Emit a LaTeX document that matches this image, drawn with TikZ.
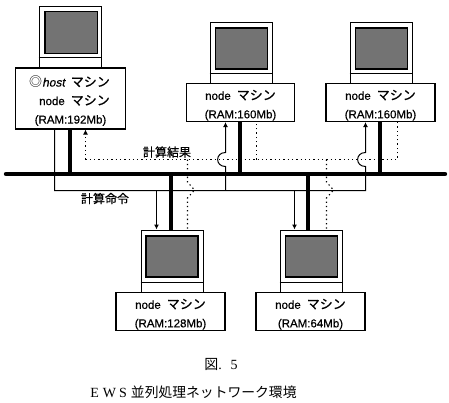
\documentclass[tikz,border=0pt]{standalone}
\usepackage{fontspec}
\setmainfont{Liberation Serif}
\newfontfamily\jp{Noto Sans CJK JP}
\newfontfamily\jpb[FakeBold=0.6]{Noto Sans CJK JP}
\newfontfamily\lat[FakeBold=0.5]{Liberation Sans}
\newfontfamily\hostf[FakeBold=0.5,FakeSlant=0.2]{Liberation Sans}
\usetikzlibrary{arrows.meta}
\newcommand{\ma}{{\jpb\fontsize{13}{13}\selectfont マシン}}
\newcommand{\nodetxt}{{\fontsize{11.5}{18.5}\selectfont node}\hspace{6pt}\ma}
\newcommand{\topstrut}{\rule{0pt}{15.5pt}}
\tikzset{
  boxn/.style={draw=black,line width=1.1pt,fill=white,inner sep=0pt,align=center,
    font=\lat\fontsize{11.5}{18.5}\selectfont},
  monitor/.style={draw=black,line width=1pt,fill=white,minimum width=62pt,minimum height=62pt,inner sep=0pt,anchor=north west},
  screen/.style={draw=black,line width=1.5pt,fill=black!55,minimum width=52pt,minimum height=41pt,inner sep=0pt,anchor=north west},
  busline/.style={line width=4.4pt,line cap=round},
  thickl/.style={line width=4pt},
  thinl/.style={line width=1pt},
  dotl/.style={line width=1.1pt,dash pattern=on 1.3pt off 3pt},
  tip/.style={-{Latex[length=5pt,width=5pt]}},
  lab/.style={font=\jpb\fontsize{12}{12}\selectfont,inner sep=0pt},
}
\begin{document}
\begin{tikzpicture}[x=1pt,y=-1pt]
\useasboundingbox (0,0) rectangle (449,402);
% monitors
\node[monitor] (mh) at (38.5,5.5) {};
\node[screen,minimum width=52.5pt,minimum height=42pt] (sh) at (44,10.5) {};
\draw[thinl] (mh.west |- 0,57.5) -- (mh.east |- 0,57.5);
\node[monitor] (ma) at (209.5,21.5) {};
\node[screen] (sa) at (214.5,27) {};
\draw[thinl] (ma.west |- 0,73.5) -- (ma.east |- 0,73.5);
\node[monitor] (mb) at (349.5,21.5) {};
\node[screen] (sb) at (354.5,27) {};
\draw[thinl] (mb.west |- 0,73.5) -- (mb.east |- 0,73.5);
\node[monitor] (mc) at (140.5,229.5) {};
\node[screen] (sc) at (145,235) {};
\draw[thinl] (mc.west |- 0,282.5) -- (mc.east |- 0,282.5);
\node[monitor] (md) at (279.5,229.5) {};
\node[screen] (sd) at (284.5,235) {};
\draw[thinl] (md.west |- 0,282.5) -- (md.east |- 0,282.5);
% boxes
\node[boxn,minimum width=110pt,minimum height=61pt] (hb) at (70.5,98.5)
  {\topstrut\hspace*{-2pt}{\jp\fontsize{13}{13}\selectfont ◎}{\hostf\fontsize{12}{12}\selectfont host}\hspace{6pt}\ma\\\hspace*{8pt}\nodetxt\\(RAM:192Mb)};
\node[boxn,minimum width=108pt,minimum height=38pt] (na) at (240.5,102.5) {\topstrut\nodetxt\\(RAM:160Mb)};
\node[boxn,minimum width=109pt,minimum height=38pt] (nb) at (380.5,102.5) {\topstrut\nodetxt\\(RAM:160Mb)};
\node[boxn,minimum width=109pt,minimum height=38pt] (nc) at (170.5,311.5) {\topstrut\nodetxt\\(RAM:128Mb)};
\node[boxn,minimum width=109pt,minimum height=38pt] (nd) at (310.5,311.5) {\topstrut\nodetxt\\(RAM:64Mb)};
% bus ends and connector columns
\coordinate (busl) at (6,174);
\coordinate (busr) at (445,174);
\coordinate (th) at (70,174);
\coordinate (ta) at (240,174);
\coordinate (tb) at (380,174);
\coordinate (tc) at (171,174);
\coordinate (td) at (308,174);
\coordinate (cmdl) at (54.5,190.5);
\coordinate (cmdr) at (365.5,190.5);
\coordinate (resl) at (85.5,159.5);
\coordinate (resr) at (397.5,159.5);
% command lines
\draw[thinl,tip] (hb.south -| cmdl) -- (cmdl) -- (cmdr) -- (365.5,166.5)
  .. controls (355,166.5) and (355,152.5) .. (365.5,152.5) -- (nb.south -| 365.5,0);
\draw[thinl,tip] (225.5,190.5) -- (225.5,166.5)
  .. controls (215,166.5) and (215,152.5) .. (225.5,152.5) -- (na.south -| 225.5,0);
\draw[thinl,tip] (156.5,190.5) -- (mc.north -| 156.5,0);
\draw[thinl,tip] (294.5,190.5) -- (md.north -| 294.5,0);
% result lines
\draw[dotl,tip] (resl) -- (hb.south -| resl);
\draw[dotl] (resl) -- (resr) -- (nb.south -| resr);
\draw[dotl] (256.5,159.5) -- (na.south -| 256.5,0);
\draw[dotl] (187.5,159.5) -- (187.5,182) -- (194.5,190) -- (187.5,198) -- (mc.north -| 187.5,0);
\draw[dotl] (326.5,159.5) -- (326.5,182) -- (333.5,190) -- (326.5,198) -- (md.north -| 326.5,0);
% thick drops and bus
\draw[thickl] (hb.south -| th) -- (th);
\draw[thickl] (na.south -| ta) -- (ta);
\draw[thickl] (nb.south -| tb) -- (tb);
\draw[thickl] (tc) -- (mc.north -| tc);
\draw[thickl] (td) -- (md.north -| td);
\draw[busline] (busl) -- (busr);
% labels
\node[lab] (r) at (167,152) {計算結果};
\node[lab] (c) at (105,198.5) {計算命令};
\node[inner sep=0pt] (fig) at (221,364.5) {{\jp\fontsize{14}{14}\selectfont 図}{\fontsize{14}{14}\selectfont.\hspace{9pt}5}};
\node[inner sep=0pt] (cap) at (193.5,392) {{\fontsize{14}{14}\selectfont E\hspace{4pt}W\hspace{3pt}S\hspace{4pt}}{\jp\fontsize{13.8}{14}\selectfont 並列処理ネットワーク環境}};
\end{tikzpicture}
\end{document}
